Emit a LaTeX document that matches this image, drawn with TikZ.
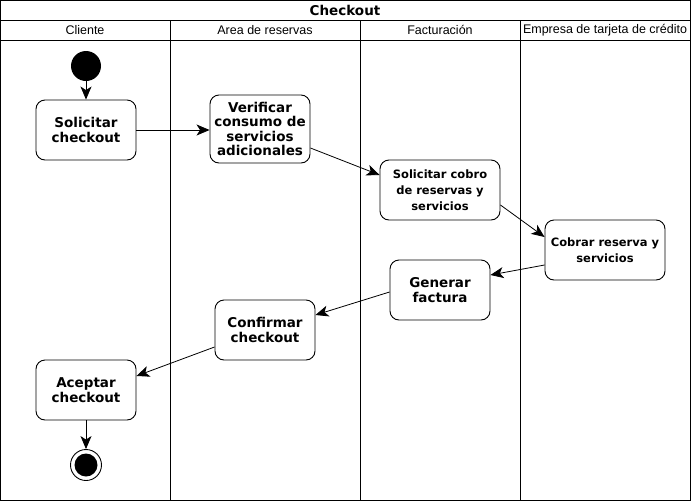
\documentclass[tikz,border=0pt]{standalone}
\usepackage{fontspec}
\setmainfont{DejaVu Sans}
\newfontfamily\lanefont{Liberation Sans}
\usetikzlibrary{arrows.meta,positioning}

\begin{document}
\begin{tikzpicture}[x=1pt,y=-1pt,
    act/.style={draw, rounded corners=9pt, line width=0.9pt, align=center,
      minimum width=100pt, minimum height=60pt, inner sep=2pt,
      font=\bfseries\fontsize{13.5}{15.5}\selectfont},
    actsmall/.style={act, minimum width=120pt, font=\bfseries\fontsize{11.5}{16}\selectfont},
    lane/.style={font=\lanefont\fontsize{12.5}{13}\selectfont},
    flow/.style={-{Stealth[length=13pt,width=11pt,inset=3.5pt]}, line width=0.8pt}
  ]
    \useasboundingbox (0,0) rectangle (691,501);

    % Marco y carriles
    \draw[line width=0.9pt] (0.5,0.5) rectangle (690,500);
    \draw[line width=0.9pt] (0.5,20) -- (690,20);
    \draw[line width=0.9pt] (0.5,40) -- (690,40);
    \foreach \x in {170, 360, 520}
      \draw[line width=0.9pt] (\x,20) -- (\x,500);

    % Titulos
    \node[font=\bfseries\fontsize{13.5}{15}\selectfont] (titulo) at (345,10) {Checkout};
    \node[lane] (cliente) at (85,30) {Cliente};
    \node[lane] (area) at (265,30) {Area de reservas};
    \node[lane] (fact) at (440,30) {Facturación};
    \node[lane] (empresa) at (605,30) {Empresa de tarjeta de crédito};

    % Inicio y fin
    \node[circle, fill, minimum size=30pt, inner sep=0pt] (ini) at (86,66) {};
    \node[circle, draw, line width=0.9pt, minimum size=31pt, inner sep=0pt] (fin) at (86,465) {};
    \node[circle, fill, minimum size=23pt, inner sep=0pt] (finin) at (fin) {};

    % Actividades
    \node[act] (solcheck) at (86,130) {Solicitar\\checkout};
    \node[act, minimum height=68pt, font=\bfseries\fontsize{13.5}{14.5}\selectfont] (verif) at (260,129)
      {Verificar\\consumo de\\servicios\\adicionales};
    \node[actsmall] (solcobro) at (440,190) {Solicitar cobro\\de reservas y\\servicios};
    \node[actsmall] (cobrar) at (605,250) {Cobrar reserva y\\servicios};
    \node[act] (factura) at (440,290) {Generar\\factura};
    \node[act] (confirm) at (265,330) {Confirmar\\checkout};
    \node[act] (acepta) at (86,390) {Aceptar\\checkout};

    % Flujo
    \draw[flow] (ini) -- (solcheck);
    \draw[flow] (solcheck) -- (verif.west |- solcheck);
    \draw[flow] ([yshift=-19pt]verif.east) -- ([yshift=15pt]solcobro.west);
    \draw[flow] ([yshift=-15pt]solcobro.east) -- ([yshift=13pt]cobrar.west);
    \draw[flow] ([yshift=-15pt]cobrar.west) -- ([yshift=15pt]factura.east);
    \draw[flow] ([yshift=-2pt]factura.west) -- ([yshift=15pt]confirm.east);
    \draw[flow] ([yshift=-17pt]confirm.west) -- ([yshift=14pt]acepta.east);
    \draw[flow] (acepta) -- (fin);
  \end{tikzpicture}
\end{document}
